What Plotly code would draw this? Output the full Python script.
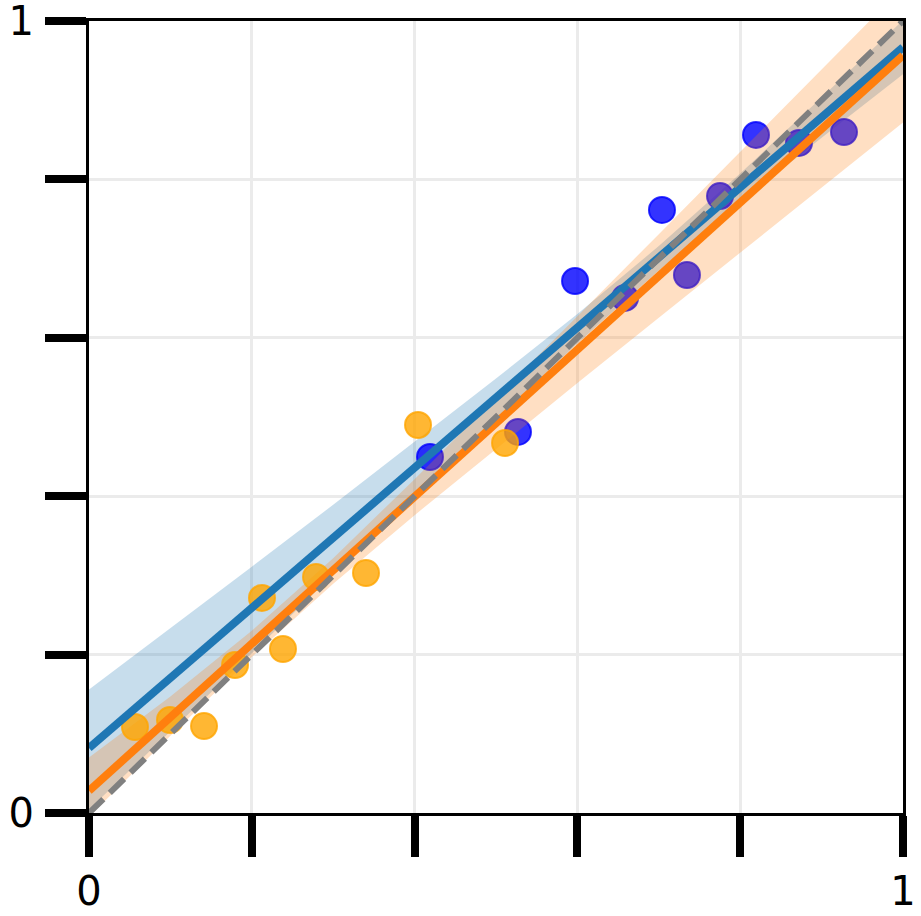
import plotly.graph_objects as go

# --- data ---
orange_x = [0.0565, 0.0995, 0.1413, 0.1794, 0.2125, 0.2383, 0.2789, 0.3403, 0.4042, 0.5111]
orange_y = [0.1086, 0.1174, 0.1098, 0.1869, 0.2715, 0.2071, 0.2980, 0.3030, 0.4899, 0.4672]

blue_x = [0.4189, 0.5270, 0.5971, 0.6585, 0.7039, 0.7346, 0.7752, 0.8194, 0.8722, 0.9275]
blue_y = [0.4495, 0.4811, 0.6717, 0.6503, 0.7614, 0.6793, 0.7790, 0.8561, 0.8460, 0.8598]

# regression lines (end points) and confidence bands
line_x = [0.0, 1.0]
blue_fit = [0.0820, 0.9669]
orange_fit = [0.0280, 0.9565]
identity_y = [0.0, 1.0]

band_x = [0.0, 0.1, 0.2, 0.3, 0.4, 0.5, 0.6, 0.7, 0.8, 0.9, 1.0]
blue_lo = [0.0045, 0.1034, 0.2021, 0.3008, 0.3990, 0.4968, 0.5928, 0.6850, 0.7709, 0.8527, 0.9328]
blue_hi = [0.1560, 0.2330, 0.3110, 0.3892, 0.4686, 0.5486, 0.6302, 0.7158, 0.8075, 0.9035, 1.0010]
orange_lo = [-0.0047, 0.0975, 0.1969, 0.2896, 0.3761, 0.4599, 0.5428, 0.6253, 0.7076, 0.7898, 0.8719]
orange_hi = [0.0700, 0.1470, 0.2300, 0.3218, 0.4215, 0.5239, 0.6272, 0.7309, 0.8346, 0.9386, 1.0427]

tick_vals = [0, 0.2, 0.4, 0.6, 0.8, 1.0]
tick_text = ["0", "", "", "", "", "1"]

C_BLUE = "#1f77b4"
C_ORANGE = "#ff7f0e"

fig = go.Figure()

# blue band
fig.add_trace(go.Scatter(x=band_x, y=blue_lo, mode="lines", line=dict(width=0),
                         showlegend=False, hoverinfo="skip"))
fig.add_trace(go.Scatter(x=band_x, y=blue_hi, mode="lines", line=dict(width=0),
                         fill="tonexty", fillcolor="rgba(31,119,180,0.25)",
                         showlegend=False, hoverinfo="skip"))
# blue points
fig.add_trace(go.Scatter(
    x=blue_x, y=blue_y, mode="markers",
    marker=dict(size=26, color="rgba(0,0,255,0.8)",
                line=dict(color="rgba(0,0,255,0.8)", width=2)),
    showlegend=False, hoverinfo="skip"))
# orange band
fig.add_trace(go.Scatter(x=band_x, y=orange_lo, mode="lines", line=dict(width=0),
                         showlegend=False, hoverinfo="skip"))
fig.add_trace(go.Scatter(x=band_x, y=orange_hi, mode="lines", line=dict(width=0),
                         fill="tonexty", fillcolor="rgba(255,127,14,0.25)",
                         showlegend=False, hoverinfo="skip"))
# orange points
fig.add_trace(go.Scatter(
    x=orange_x, y=orange_y, mode="markers",
    marker=dict(size=26, color="rgba(255,165,0,0.8)",
                line=dict(color="rgba(255,165,0,0.8)", width=2)),
    showlegend=False, hoverinfo="skip"))

# regression lines
fig.add_trace(go.Scatter(x=line_x, y=blue_fit, mode="lines",
                         line=dict(color=C_BLUE, width=8),
                         showlegend=False, hoverinfo="skip"))
fig.add_trace(go.Scatter(x=line_x, y=orange_fit, mode="lines",
                         line=dict(color=C_ORANGE, width=8),
                         showlegend=False, hoverinfo="skip"))
# identity
fig.add_trace(go.Scatter(x=line_x, y=identity_y, mode="lines",
                         line=dict(color="#808080", width=6, dash="20px,9px"),
                         showlegend=False, hoverinfo="skip"))

axis_common = dict(
    range=[0, 1], tickvals=tick_vals, ticktext=tick_text,
    showgrid=True, gridcolor="#ebebeb", gridwidth=3,
    showline=True, linecolor="black", linewidth=3, mirror=True,
    ticks="outside", ticklen=41, tickwidth=8, tickcolor="black",
    zeroline=False, automargin=False, ticklabeloverflow="allow",
    tickfont=dict(family="DejaVu Sans", size=40, color="black"),
)

fig.update_layout(
    width=921, height=916,
    margin=dict(l=89, r=18, t=21, b=103, pad=0),
    paper_bgcolor="white", plot_bgcolor="white",
    xaxis=dict(**axis_common),
    yaxis=dict(**axis_common, ticklabelstandoff=3),
    showlegend=False,
)

fig.write_html(
    "out.html",
    config={"displayModeBar": False},
    post_script="document.body.style.margin='0';document.body.style.overflow='hidden';",
)
